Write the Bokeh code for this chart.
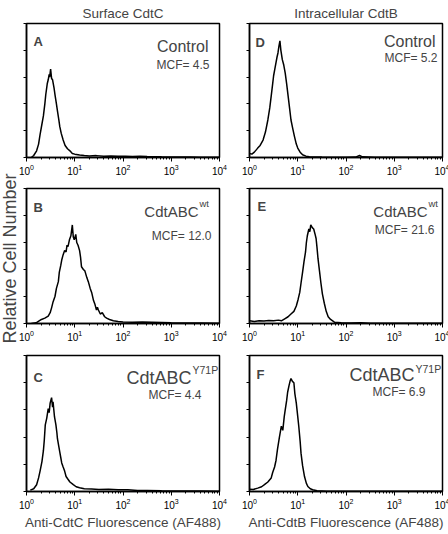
import math
from bokeh.plotting import figure
from bokeh.layouts import row, column
from bokeh.models import Label, FixedTicker, Range1d, LogTicker, CustomLabelingPolicy
from bokeh.embed import file_html
from bokeh.resources import INLINE

FONT = "Liberation Sans"

# ---------------- data (fluorescence intensity, relative cell count %) ----------------
col_titles = ["Surface CdtC", "Intracellular CdtB"]
x_labels = ["Anti-CdtC Fluorescence (AF488)", "Anti-CdtB Fluorescence (AF488)"]
y_label = "Relative Cell Number"
panel_letters = ["A", "B", "C", "D", "E", "F"]
panel_names = ["Control", "CdtABC", "CdtABC", "Control", "CdtABC", "CdtABC"]
panel_sups = ["", "wt", "Y71P", "", "wt", "Y71P"]
mcf_values = ["4.5", "12.0", "4.4", "5.2", "21.6", "6.9"]

a_x = [1.26, 1.41, 1.62, 1.78, 1.91, 2.09, 2.24, 2.40, 2.51, 2.69, 2.82, 2.95, 3.02, 3.16, 3.31,
       3.47, 3.72, 3.89, 4.17, 4.37, 4.68, 4.90, 5.25, 5.75, 6.31, 7.08, 7.94, 8.9, 10, 12.6, 15.8,
       20, 28, 40, 56, 79, 112, 158, 224, 316, 447, 631, 1000, 1585, 2512, 4000, 6310, 10000]
a_y = [0, 1.5, 5, 10, 17, 25, 31, 40, 47, 55, 58, 62, 60, 66, 59,
       58, 52, 47, 40, 35, 28, 23, 18, 13, 9, 6.5, 5, 3, 2.5, 1.8, 1.5,
       1.2, 1.4, 1, 1.2, 0.9, 1, 0.8, 1, 0.7, 0.6, 0.5, 0.4, 0.3, 0.3, 0.2, 0.2, 0.2]

b_x = [1.26, 1.58, 2.04, 2.40, 2.82, 3.09, 3.31, 3.55, 3.89, 4.17, 4.57, 4.79, 5.13, 5.37, 5.75,
       6.17, 6.61, 6.92, 7.24, 7.76, 8.32, 8.91, 9.33, 9.77, 10.5, 11.0, 11.7, 12.6, 13.2, 13.8,
       15.1, 16.2, 17.8, 19.1, 20.9, 22.4, 24.5, 26.3, 28.2, 29.5, 30.9, 33.9, 37.2, 41.7, 45.7,
       52.5, 63.1, 79.4, 100, 158, 251, 398, 631, 1000, 1995, 3981, 10000]
b_y = [0, 0.5, 3, 4, 5.5, 8, 11.6, 16, 20, 26, 31, 38, 43, 47, 51,
       54, 53, 58, 57, 62, 65, 73, 64, 62, 66, 60, 58, 54, 49, 42,
       40, 39, 34, 31, 26, 23, 17, 14, 10, 12, 10, 7, 8, 5, 4,
       3, 2, 1.5, 1.2, 1, 1.2, 1, 0.8, 0.6, 0.4, 0.3, 0.2]

c_x = [1.20, 1.41, 1.62, 1.78, 1.91, 2.09, 2.24, 2.34, 2.45, 2.63, 2.82, 2.95, 3.09, 3.31, 3.47,
       3.55, 3.80, 4.07, 4.27, 4.37, 4.68, 4.90, 5.13, 5.37, 5.75, 6.17, 6.61, 7.24, 7.94, 9.33,
       10.7, 12.6, 15.8, 22.4, 31.6, 50.1, 79.4, 126, 200, 316, 631, 1585, 3981, 10000]
c_y = [1, 2, 5, 10, 15, 22, 30, 38, 49, 54, 61, 58, 65, 69, 62,
       66, 55, 49, 43, 39, 33, 29, 25, 21, 18, 15, 11, 9, 7, 5,
       3.5, 2.7, 2, 1.8, 1.5, 1.6, 1.2, 1.3, 0.8, 0.7, 0.5, 0.3, 0.3, 0.2]

d_x = [1.0, 1.12, 1.26, 1.48, 1.66, 1.91, 2.14, 2.40, 2.63, 2.82, 3.02, 3.16, 3.39, 3.55, 3.72,
       3.89, 4.07, 4.27, 4.47, 4.79, 5.13, 5.50, 5.89, 6.31, 6.76, 7.24, 7.94, 8.51, 9.33, 10,
       11.2, 12.6, 14.8, 17.4, 31.6, 100, 158, 191, 219, 398, 1000, 10000]
d_y = [3, 2.5, 4, 7, 9, 13, 19, 28, 37, 46, 55, 61, 67, 71, 75,
       78, 83, 87, 80, 73, 69, 63, 55, 46, 37, 28, 21, 16, 10, 7,
       4, 2, 1, 0.5, 0.3, 0.2, 0.3, 1.5, 0.5, 0.2, 0.1, 0.1]

e_x = [1.0, 1.26, 1.58, 2.0, 2.51, 3.16, 3.98, 4.57, 5.37, 6.31, 7.24, 8.32, 9.33, 10.2, 11.0,
       11.7, 12.6, 13.5, 14.5, 15.1, 15.8, 17.0, 17.8, 18.6, 20.0, 21.4, 22.9, 24.0, 25.1, 26.3,
       28.2, 30.2, 32.4, 35.5, 38.9, 42.7, 47.9, 57.5, 79.4, 126, 200, 316, 1000, 10000]
e_y = [2, 1.5, 2, 1.8, 2.2, 2, 2.5, 2, 3.5, 5, 7, 9, 13, 18, 23,
       30, 38, 46, 53, 60, 65, 70, 68, 73, 71, 70, 66, 63, 56, 48,
       39, 30, 22, 15, 9, 5, 3, 1, 0.5, 0.4, 0.6, 0.2, 0.1, 0.1]

f_x = [1.0, 1.20, 1.48, 1.78, 2.04, 2.40, 2.82, 3.02, 3.31, 3.55, 3.80, 4.17, 4.57, 4.90, 5.25,
       5.50, 5.89, 6.17, 6.61, 6.92, 7.24, 7.76, 8.32, 8.71, 9.33, 10.0, 10.5, 11.2, 11.7, 12.6,
       13.8, 15.1, 16.2, 18.2, 20.4, 25.1, 39.8, 100, 10000]
f_y = [1.7, 1.5, 2.5, 3.5, 5, 7, 10, 14, 18, 23, 31, 40, 48, 45, 55,
       60, 67, 73, 78, 81, 83, 81, 80, 72, 65, 55, 48, 37, 28, 19,
       11, 6, 3.7, 2, 1.3, 0.5, 0.2, 0.1, 0.1]

series = [(a_x, a_y), (b_x, b_y), (c_x, c_y), (d_x, d_y), (e_x, e_y), (f_x, f_y)]

# ---------------- layout geometry ----------------
LAB_W = 18
LEFT_W = dict(fw=193, bl=7, br=14)
RIGHT_W = dict(fw=193, bl=16, br=7)
ROWS = [dict(fh=134, bt=22, bb=21), dict(fh=135, bt=10, bb=22), dict(fh=136, bt=10, bb=34)]

# text placement (pixel offsets from the frame)
TEXT = [
    dict(lx=7, lb=18, nr=11, nb=23, sb=0, mr=10, mb=41, nf=16),
    dict(lx=7, lb=19, nr=21, nb=23, sb=15, mr=8, mb=47, nf=15),
    dict(lx=7, lb=22, nr=28, nb=22, sb=14, mr=18, mb=39, nf=18),
    dict(lx=6, lb=19, nr=7, nb=18, sb=0, mr=5, mb=34, nf=16),
    dict(lx=8, lb=18, nr=15, nb=23, sb=15, mr=8, mb=41, nf=15),
    dict(lx=7, lb=19, nr=28, nb=19, sb=13, mr=17, mb=36, nf=18),
]


def xpix(fw, dx_from_left):
    return 10 ** (4.0 * dx_from_left / fw)


def ypix(fh, dy_from_top):
    return 100.0 - 100.0 * dy_from_top / fh


def make_panel(idx, col, r):
    W = LEFT_W if col == 0 else RIGHT_W
    R = ROWS[r]
    fw, fh = W["fw"], R["fh"]
    p = figure(x_axis_type="log", x_range=Range1d(1, 1e4), y_range=Range1d(0, 100),
               frame_width=fw, frame_height=fh,
               min_border_left=W["bl"], min_border_right=W["br"],
               min_border_top=R["bt"], min_border_bottom=R["bb"],
               output_backend="svg", toolbar_location=None, tools="")
    p.grid.visible = False
    p.outline_line_color = "black"
    p.outline_line_width = 1.5
    p.background_fill_color = "white"
    p.border_fill_color = "white"

    xa = p.xaxis[0]
    xa.ticker = LogTicker(desired_num_ticks=5, num_minor_ticks=10)
    xa.axis_line_width = 1.5
    xa.major_tick_out = 4
    xa.major_tick_in = 0
    xa.minor_tick_out = 2
    xa.minor_tick_in = 0
    xa.major_label_standoff = 2
    xa.major_label_text_font = FONT
    xa.major_label_text_font_size = "10px"
    xa.major_label_text_color = "black"
    if r == 2:
        xa.axis_label = x_labels[col]
        xa.axis_label_text_font = FONT
        xa.axis_label_text_font_size = "13.5px"
        xa.axis_label_text_font_style = "normal"
        xa.axis_label_standoff = 3

    ya = p.yaxis[0]
    ya.ticker = FixedTicker(ticks=[0, 20, 40, 60, 80, 100])
    ya.axis_line_width = 1.5
    ya.major_tick_out = 3
    ya.major_tick_in = 0
    ya.minor_tick_out = 0
    ya.major_label_text_font_size = "1px"
    ya.major_label_standoff = 0
    ya.major_label_policy = CustomLabelingPolicy(code="if (false) { yield 0 }")

    if r == 0:
        p.title.text = col_titles[col]
        p.title.align = "center"
        p.title.text_font = FONT
        p.title.text_font_size = "13.5px"
        p.title.text_font_style = "normal"
        p.title.standoff = 6

    xs, ys = series[idx]
    p.line(xs, ys, line_color="black", line_width=1.5)

    t = TEXT[idx]
    p.add_layout(Label(x=xpix(fw, t["lx"]), y=ypix(fh, t["lb"]), text=panel_letters[idx],
                       text_font=FONT, text_font_size="13px", text_font_style="bold",
                       text_align="left", text_baseline="alphabetic"))
    p.add_layout(Label(x=xpix(fw, fw - t["nr"]), y=ypix(fh, t["nb"]), text=panel_names[idx],
                       text_font=FONT, text_font_size="%dpx" % t["nf"],
                       text_align="right", text_baseline="alphabetic"))
    if panel_sups[idx]:
        sf = "10.5px" if panel_sups[idx] == "Y71P" else "9.5px"
        p.add_layout(Label(x=xpix(fw, fw - t["nr"] + 1), y=ypix(fh, t["sb"]), text=panel_sups[idx],
                           text_font=FONT, text_font_size=sf,
                           text_align="left", text_baseline="alphabetic"))
    p.add_layout(Label(x=xpix(fw, fw - t["mr"]), y=ypix(fh, t["mb"]), text="MCF= " + mcf_values[idx],
                       text_font=FONT, text_font_size="12px",
                       text_align="right", text_baseline="alphabetic"))
    return p


left = [make_panel(i, 0, i) for i in range(3)]
right = [make_panel(3 + i, 1, i) for i in range(3)]

total_h = sum(R["fh"] + R["bt"] + R["bb"] for R in ROWS)
lab = figure(width=LAB_W, height=total_h, x_range=Range1d(0, 1), y_range=Range1d(0, 1),
             x_axis_location=None, y_axis_location=None, min_border=0,
             output_backend="svg", toolbar_location=None, tools="")
lab.grid.visible = False
lab.outline_line_color = None
lab.add_layout(Label(x=0.5, y=1 - 258.0 / total_h, text=y_label, angle=math.pi / 2,
                     text_font=FONT, text_font_size="18px",
                     text_align="center", text_baseline="middle"))

layout = row(lab, column(*left), column(*right))
open("out.html", "w").write(file_html(layout, INLINE))
